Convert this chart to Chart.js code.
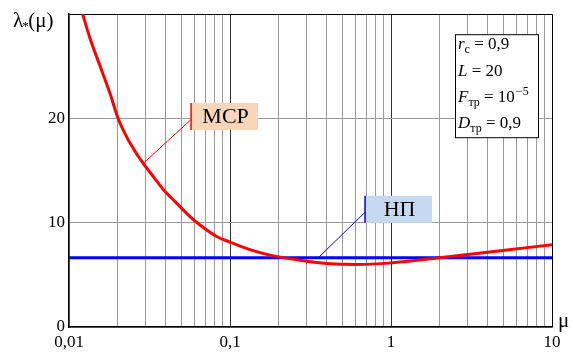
<!DOCTYPE html>
<html>
<head>
<meta charset="utf-8">
<script src="https://cdn.jsdelivr.net/npm/chart.js@4.4.1/dist/chart.umd.min.js"></script>
<style>
  html, body { margin: 0; padding: 0; background: #fff; }
  canvas { display: block; }
</style>
</head>
<body>
<canvas id="chartCanvas" width="573" height="354"></canvas>
<script>
// curve МСР
const muValues = [0.0121, 0.0135, 0.016, 0.018, 0.0202, 0.0228, 0.0257, 0.0289, 0.0334, 0.0385, 0.0467, 0.0578, 0.0651, 0.0826, 0.1, 0.133, 0.177, 0.3, 0.42, 0.6, 1, 2, 4.5, 10];
const mcpValues = [30.1, 27.7, 24.56, 22.36, 20.0, 18.23, 16.86, 15.69, 14.42, 13.19, 11.86, 10.44, 9.78, 8.68, 8.14, 7.42, 6.89, 6.3, 6.07, 6.0, 6.15, 6.64, 7.26, 7.9];

// horizontal line НП
const npMu = [0.01, 10];
const npValues = [6.65, 6.65];

// axis ticks
const xLabelValues = [0.01, 0.1, 1, 10];
const xLabelTexts = ["0,01", "0,1", "1", "10"];
const yTickValues = [0, 10, 20, 30];
const yLabelTexts = ["0", "10", "20", ""];

// info box lines
const infoRows = [
  { sym: "r", sub: "c", rest: " = 0,9" },
  { sym: "L", sub: "", rest: " = 20" },
  { sym: "F", sub: "тр", rest: " = 10", sup: "−5" },
  { sym: "D", sub: "тр", rest: " = 0,9" },
];

// pick the first serif face that is really installed
function pickFont(cands) {
  const c = document.createElement("canvas").getContext("2d");
  const s = "МСР НП 0,01 λμ abcdefgh 12345";
  c.font = "40px monospace";
  const m = c.measureText(s).width;
  for (const f of cands) {
    c.font = '40px "' + f + '", monospace';
    const w1 = c.measureText(s).width;
    c.font = '40px "' + f + '", sans-serif';
    const w2 = c.measureText(s).width;
    if (w1 !== m && Math.abs(w1 - w2) < 0.01) return '"' + f + '", serif';
  }
  return "serif";
}
const SERIF = pickFont(["Liberation Serif", "Times New Roman", "Tinos", "Times", "Noto Serif", "DejaVu Serif", "FreeSerif"]);

// minor grid values 1..9 per decade
const xGridValues = [];
[0.01, 0.1, 1].forEach((d) => {
  for (let m = 1; m <= 9; m++) xGridValues.push(+(m * d).toPrecision(3));
});
xGridValues.push(10);

// callout labels: anchor on the line, box placed in data coords
const callouts = [
  { text: "МСР", color: "#ff0000", fill: "#f9d5b9", anchor: [0.0289, 15.69], box: [0.0573, 19.9] },
  { text: "НП", color: "#0000ff", fill: "#c6d9f1", anchor: [0.3535, 6.65], box: [0.69, 11.0] },
];

const decorations = {
  id: "decorations",
  afterDraw(chart) {
    const { ctx, chartArea, scales } = chart;
    const xs = scales.x, ys = scales.y;
    ctx.save();

    // callouts
    callouts.forEach((c) => {
      const ax = xs.getPixelForValue(c.anchor[0]);
      const ay = ys.getPixelForValue(c.anchor[1]);
      const bx = xs.getPixelForValue(c.box[0]);
      const by = ys.getPixelForValue(c.box[1]);
      const top = by - 16.5, h = 27, w = 67;
      ctx.fillStyle = c.fill;
      ctx.fillRect(bx, top, w, h);
      ctx.strokeStyle = c.color;
      ctx.lineWidth = 1;
      ctx.beginPath();
      ctx.moveTo(ax, ay);
      ctx.lineTo(bx, by);
      ctx.stroke();
      ctx.lineWidth = 1.5;
      ctx.beginPath();
      ctx.moveTo(bx, top);
      ctx.lineTo(bx, top + h);
      ctx.stroke();
      ctx.fillStyle = "#000";
      ctx.font = "22px " + SERIF;
      ctx.textAlign = "center";
      ctx.textBaseline = "middle";
      ctx.fillText(c.text, bx + w / 2 + 1, top + h / 2 + 1);
    });

    // info box
    const bl = chartArea.right - 97, bt = chartArea.top + 20;
    ctx.fillStyle = "#fff";
    ctx.fillRect(bl, bt, 83, 103);
    ctx.strokeStyle = "#000";
    ctx.lineWidth = 1;
    ctx.strokeRect(bl + 0.5, bt + 0.5, 83, 103);
    ctx.textAlign = "left";
    ctx.textBaseline = "alphabetic";
    infoRows.forEach((r, i) => {
      let x = bl + 3;
      const y = bt + 15 + i * 26.3;
      ctx.fillStyle = "#000";
      ctx.font = "italic 17px " + SERIF;
      ctx.fillText(r.sym, x, y);
      x += ctx.measureText(r.sym).width;
      if (r.sub) {
        ctx.font = "12px " + SERIF;
        ctx.fillText(r.sub, x, y + 4);
        x += ctx.measureText(r.sub).width;
      }
      ctx.font = "17px " + SERIF;
      ctx.fillText(r.rest, x, y);
      x += ctx.measureText(r.rest).width;
      if (r.sup) {
        ctx.font = "12px " + SERIF;
        ctx.fillText(r.sup, x + 1, y - 7);
      }
    });

    // axis titles
    ctx.fillStyle = "#000";
    ctx.font = "21px " + SERIF;
    ctx.textBaseline = "middle";
    ctx.fillText("λ", 13, 21);
    const lw = ctx.measureText("λ").width;
    ctx.font = "13px " + SERIF;
    ctx.fillText("*", 13 + lw - 1, 27);
    ctx.font = "21px " + SERIF;
    ctx.fillText("(μ)", 13 + lw + 5, 21);
    ctx.fillText("μ", chartArea.right + 6, chartArea.bottom - 6);

    ctx.restore();
  },
};

const ctx = document.getElementById("chartCanvas").getContext("2d");
const chart = new Chart(ctx, {
  type: "line",
  data: {
    datasets: [
      {
        label: "МСР",
        data: muValues.map((m, i) => ({ x: m, y: mcpValues[i] })),
        borderColor: "#ff0000",
        borderWidth: 3,
        pointRadius: 0,
        cubicInterpolationMode: "monotone",
        fill: false,
      },
      {
        label: "НП",
        data: npMu.map((m, i) => ({ x: m, y: npValues[i] })),
        borderColor: "#0000ff",
        borderWidth: 3,
        pointRadius: 0,
        fill: false,
      },
    ],
  },
  options: {
    responsive: false,
    animation: false,
    devicePixelRatio: 1,
    layout: { padding: { top: 8, right: 21, left: 0, bottom: 0 } },
    plugins: { legend: { display: false }, tooltip: { enabled: false } },
    scales: {
      x: {
        type: "logarithmic",
        min: 0.01,
        max: 10,
        afterBuildTicks: (scale) => {
          scale.ticks = xGridValues.map((v) => ({ value: v }));
        },
        afterFit: (scale) => { scale.height = 27; },
        border: { color: "#000", width: 1.5 },
        grid: {
          drawTicks: false,
          lineWidth: 1,
          color: (c) => {
            const v = c.tick && c.tick.value;
            if (v === 10) return "#000";
            if (v === 0.1 || v === 1) return "#333";
            return "#9a9a9a";
          },
        },
        ticks: {
          autoSkip: false,
          maxRotation: 0,
          padding: 5,
          color: "#000",
          font: { family: SERIF, size: 17 },
          callback: (v) => {
            const i = xLabelValues.findIndex((l) => Math.abs(l - v) < v * 1e-6);
            return i >= 0 ? xLabelTexts[i] : "";
          },
        },
      },
      y: {
        min: 0,
        max: 30,
        afterBuildTicks: (scale) => {
          scale.ticks = yTickValues.map((v) => ({ value: v }));
        },
        afterFit: (scale) => { scale.width = 69; },
        border: { color: "#000", width: 1.5 },
        grid: {
          drawTicks: false,
          lineWidth: 1,
          color: (c) => (c.tick && c.tick.value === 30 ? "#000" : "#9a9a9a"),
        },
        ticks: {
          padding: 4,
          color: "#000",
          font: { family: SERIF, size: 17 },
          callback: (v) => {
            const i = yTickValues.indexOf(v);
            return i >= 0 ? yLabelTexts[i] : "";
          },
        },
      },
    },
  },
  plugins: [decorations],
});
</script>
</body>
</html>
